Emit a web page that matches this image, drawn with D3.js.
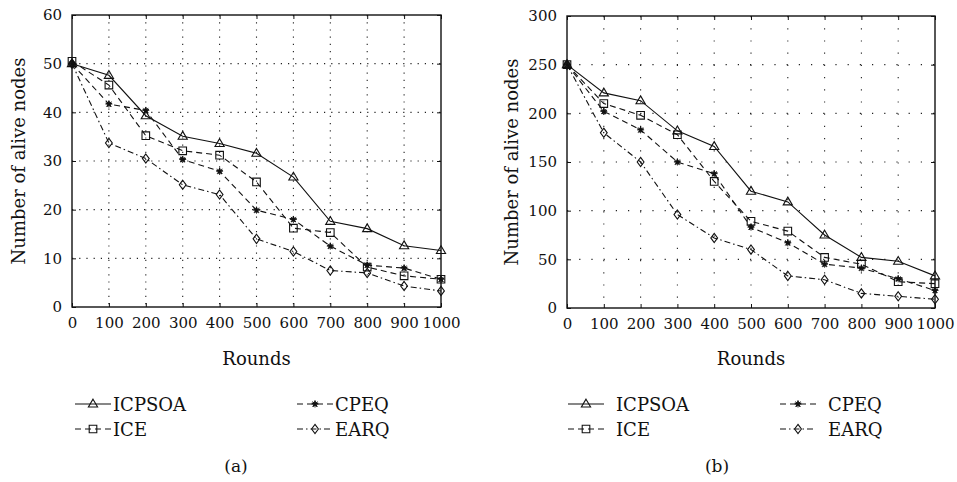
<!DOCTYPE html>
<html>
<head>
<meta charset="utf-8">
<script src="https://cdn.jsdelivr.net/npm/d3@7"></script>
<style>
  body { margin: 0; background: #fff; }
  text { font-family: "DejaVu Serif", "Liberation Serif", serif; fill: #111; }
</style>
</head>
<body>
<div id="chart"></div>
<script>
"use strict";

// == DATA ==
var rounds = [0, 100, 200, 300, 400, 500, 600, 700, 800, 900, 1000];
var seriesNames = ["ICPSOA", "ICE", "CPEQ", "EARQ"];

var icpsoaA = [50, 47.6, 39.3, 35.1, 33.6, 31.6, 26.7, 17.6, 16.1, 12.6, 11.6];
var iceA    = [50.5, 45.6, 35.2, 32.1, 31.2, 25.7, 16.2, 15.3, 8.2, 6.4, 5.7];
var cpeqA   = [50, 41.7, 40.4, 30.3, 27.9, 19.9, 18.0, 12.5, 8.6, 8.0, 5.7];
var earqA   = [50, 33.7, 30.5, 25.1, 23.1, 14.0, 11.4, 7.5, 7.0, 4.3, 3.3];

var icpsoaB = [250, 221, 213, 182, 166, 120, 109, 75, 52, 48, 33];
var iceB    = [250, 210, 198, 178, 130, 89, 79, 52, 45, 27, 25];
var cpeqB   = [250, 202, 183, 150, 138, 83, 67, 45, 41, 30, 18];
var earqB   = [250, 180, 150, 96, 72, 60, 33, 29, 15, 12, 9];

var yTicksA = [0, 10, 20, 30, 40, 50, 60];
var yTicksB = [0, 50, 100, 150, 200, 250, 300];

// == BOILERPLATE ==
var W = 957, H = 482;
var svg = d3.select("#chart").append("svg")
  .attr("width", W).attr("height", H);

var styles = {
  ICPSOA: { dash: null, marker: "triangle" },
  ICE:    { dash: "6,4", marker: "square" },
  CPEQ:   { dash: "6,4", marker: "star" },
  EARQ:   { dash: "6,3,1.5,3", marker: "diamond" }
};

function markerPath(type) {
  if (type === "triangle") return "M0,-4.8L4.6,3L-4.6,3Z";
  if (type === "square") return "M-3.8,-3.8H3.8V3.8H-3.8Z";
  if (type === "diamond") return "M0,-4.6L3.4,0L0,4.6L-3.4,0Z";
  return d3.symbol(d3.symbolStar, 12)();
}

function drawMarker(g, type, x, y) {
  var p = g.append("path")
    .attr("d", markerPath(type))
    .attr("transform", "translate(" + x + "," + y + ")")
    .attr("stroke", "#111").attr("stroke-width", 1.1);
  if (type === "star") {
    p.attr("fill", "#111").attr("stroke-width", 0.8);
    g.append("path")
      .attr("d", "M-3.5,0H3.5M0,-3.5V3.5M-2.5,-2.5L2.5,2.5M-2.5,2.5L2.5,-2.5")
      .attr("transform", "translate(" + x + "," + y + ")")
      .attr("stroke", "#111").attr("stroke-width", 0.9);
  } else {
    p.attr("fill", "none");
  }
}

function panel(opts) {
  var g = svg.append("g");
  var x = d3.scaleLinear().domain([0, 1000]).range([opts.left, opts.right]);
  var y = d3.scaleLinear().domain([0, opts.ymax]).range([opts.bottom, opts.top]);

  // grid
  g.selectAll(".gx").data(rounds.slice(1, -1)).enter().append("line")
    .attr("x1", function (d) { return x(d); }).attr("x2", function (d) { return x(d); })
    .attr("y1", opts.top).attr("y2", opts.bottom)
    .attr("stroke", "#222").attr("stroke-width", 1.1)
    .attr("stroke-dasharray", opts.dots);
  g.selectAll(".gy").data(opts.yTicks.slice(1, -1)).enter().append("line")
    .attr("y1", function (d) { return y(d); }).attr("y2", function (d) { return y(d); })
    .attr("x1", opts.left).attr("x2", opts.right)
    .attr("stroke", "#222").attr("stroke-width", 1.1)
    .attr("stroke-dasharray", opts.dots);

  // axes (ticks inward, mirrored)
  var fmt = d3.format("d");
  g.append("g").attr("transform", "translate(0," + opts.bottom + ")")
    .call(d3.axisBottom(x).tickValues(rounds).tickSizeInner(-4).tickSizeOuter(0).tickPadding(10).tickFormat(fmt))
    .call(function (a) { a.select(".domain").remove(); a.selectAll("text").attr("font-size", 15).attr("font-family", "DejaVu Serif"); });
  g.append("g").attr("transform", "translate(0," + opts.top + ")")
    .call(d3.axisTop(x).tickValues(rounds).tickSizeInner(-4).tickSizeOuter(0).tickFormat(""))
    .call(function (a) { a.select(".domain").remove(); });
  g.append("g").attr("transform", "translate(" + opts.left + ",0)")
    .call(d3.axisLeft(y).tickValues(opts.yTicks).tickSizeInner(-4).tickSizeOuter(0).tickPadding(10).tickFormat(fmt))
    .call(function (a) { a.select(".domain").remove(); a.selectAll("text").attr("font-size", 15).attr("font-family", "DejaVu Serif"); });
  g.append("g").attr("transform", "translate(" + opts.right + ",0)")
    .call(d3.axisRight(y).tickValues(opts.yTicks).tickSizeInner(-4).tickSizeOuter(0).tickFormat(""))
    .call(function (a) { a.select(".domain").remove(); });
  g.selectAll(".tick line").attr("stroke", "#111").attr("stroke-width", 1);

  g.append("rect")
    .attr("x", opts.left).attr("y", opts.top)
    .attr("width", opts.right - opts.left).attr("height", opts.bottom - opts.top)
    .attr("fill", "none").attr("stroke", "#111").attr("stroke-width", 1.4);

  // series
  var line = d3.line()
    .x(function (d) { return x(d[0]); })
    .y(function (d) { return y(d[1]); });
  opts.series.forEach(function (vals, i) {
    var st = styles[seriesNames[i]];
    var pts = rounds.map(function (r, j) { return [r, vals[j]]; });
    g.append("path").datum(pts)
      .attr("d", line)
      .attr("fill", "none").attr("stroke", "#111").attr("stroke-width", 1.1)
      .attr("stroke-dasharray", st.dash);
    pts.forEach(function (p) { drawMarker(g, st.marker, x(p[0]), y(p[1])); });
  });

  // titles
  g.append("text")
    .attr("transform", "translate(" + opts.ylabX + "," + ((opts.top + opts.bottom) / 2) + ") rotate(-90)")
    .attr("text-anchor", "middle").attr("font-size", 18)
    .text("Number of alive nodes");
  g.append("text")
    .attr("x", (opts.left + opts.right) / 2).attr("y", 365)
    .attr("text-anchor", "middle").attr("font-size", 18)
    .text("Rounds");

  // legend: two columns, two rows
  var cols = [opts.leg1, opts.leg2];
  var rows = [404, 429];
  seriesNames.forEach(function (name) {
    var st = styles[name];
    var col = (name === "ICPSOA" || name === "ICE") ? 0 : 1;
    var row = (name === "ICPSOA" || name === "CPEQ") ? 0 : 1;
    var sx = cols[col], sy = rows[row];
    g.append("line")
      .attr("x1", sx).attr("x2", sx + opts.legLen)
      .attr("y1", sy).attr("y2", sy)
      .attr("stroke", "#111").attr("stroke-width", 1.1)
      .attr("stroke-dasharray", st.dash);
    drawMarker(g, st.marker, sx + opts.legLen / 2, sy);
    g.append("text")
      .attr("x", sx + opts.legLen + opts.legGap).attr("y", sy + 6.5)
      .attr("font-size", 18)
      .text(name);
  });

  g.append("text")
    .attr("x", opts.capX).attr("y", 472)
    .attr("text-anchor", "middle").attr("font-size", 17)
    .text(opts.caption);
}

panel({
  left: 72, right: 441, top: 15, bottom: 307, ymax: 60, yTicks: yTicksA,
  dots: "1.2,6", series: [icpsoaA, iceA, cpeqA, earqA],
  ylabX: 25, leg1: 75, leg2: 297, legLen: 36, legGap: 2,
  capX: 236, caption: "(a)"
});
panel({
  left: 567, right: 935, top: 16, bottom: 308, ymax: 300, yTicks: yTicksB,
  dots: "1.2,11", series: [icpsoaB, iceB, cpeqB, earqB],
  ylabX: 518, leg1: 568, leg2: 780, legLen: 36, legGap: 12,
  capX: 717, caption: "(b)"
});
</script>
</body>
</html>
